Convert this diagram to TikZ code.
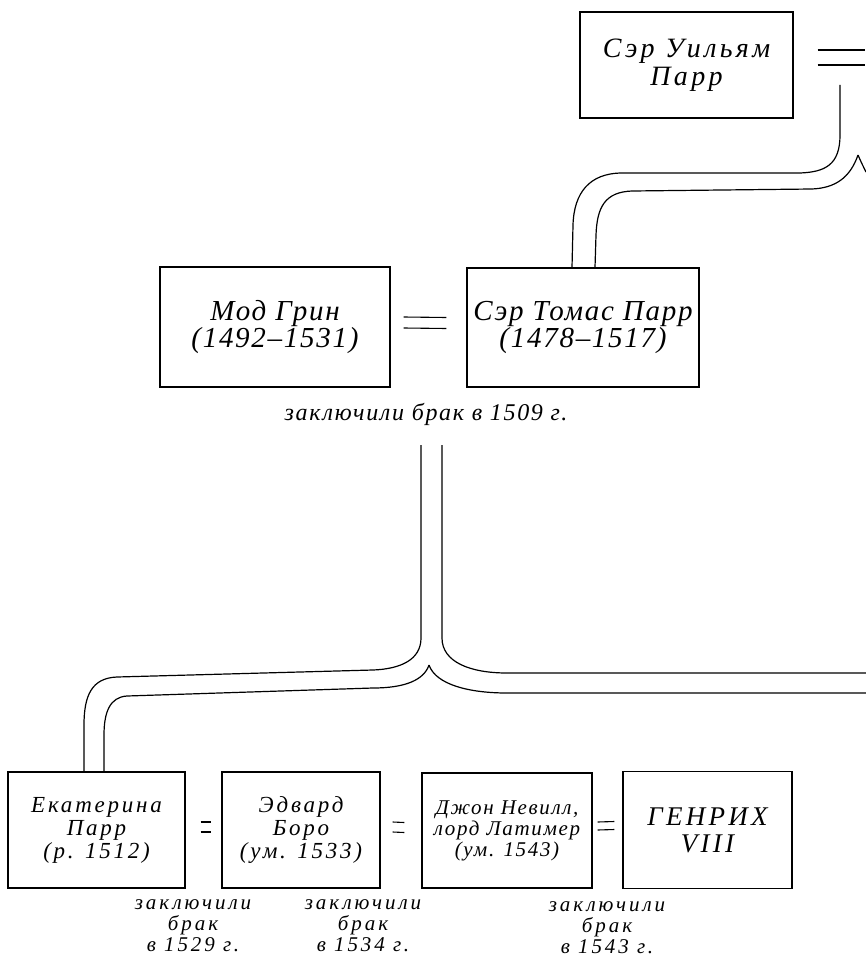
\documentclass[tikz,border=0pt]{standalone}
\usepackage{fontspec}
\setmainfont{Liberation Serif}[LetterSpace=6]

\begin{document}
\begin{tikzpicture}
	[x=1pt, y=-1pt,
	 person/.style={rectangle, draw, line width=1.2pt, align=center, inner sep=0pt, font=\itshape\fontsize{29}{27}\selectfont},
	 heir/.style={person, font=\itshape\fontsize{23}{23}\selectfont\addfontfeature{LetterSpace=12}},
	 wedlabel/.style={align=center, inner sep=0pt, font=\itshape\fontsize{21}{21}\selectfont\addfontfeature{LetterSpace=14}},
	 wed/.style={line width=1.1pt},
	 tube/.style={line width=1.2pt, line join=round}]
	\useasboundingbox (0,0) rectangle (865,960);
	\node[person, minimum width=213pt, minimum height=106pt, font=\itshape\fontsize{28}{28}\selectfont\addfontfeature{LetterSpace=12}] (wparr) at (686.5,65) {Сэр Уильям\\Парр};
	\node[person, minimum width=230pt, minimum height=120pt] (mgrin) at (275,327) {Мод Грин\\(1492–1531)};
	\node[person, minimum width=232pt, minimum height=119pt] (tparr) at (583,327.5) {Сэр Томас Парр\\(1478–1517)};
	\node[wedlabel, font=\itshape\fontsize{24}{22}\selectfont\addfontfeature{LetterSpace=7}] (wed1509) at (426,414) {заключили брак в 1509 г.};
	\node[heir, minimum width=177pt, minimum height=116pt] (kparr) at (96.5,830) {Екатерина\\Парр\\(р. 1512)};
	\node[heir, minimum width=158pt, minimum height=116pt] (eboro) at (301,830) {Эдвард\\Боро\\(ум. 1533)};
	\node[heir, minimum width=170pt, minimum height=115pt, font=\itshape\fontsize{21}{21}\selectfont\addfontfeature{LetterSpace=8}] (jnevill) at (507,830.5) {Джон Невилл,\\лорд Латимер\\(ум. 1543)};
	\node[heir, minimum width=169pt, minimum height=117pt, font=\itshape\fontsize{27}{27}\selectfont\addfontfeature{LetterSpace=12}] (henry) at (707.5,830) {ГЕНРИХ\\VIII};
	\node[wedlabel] (wed1529) at (193,926) {заключили\\брак\\в 1529 г.};
	\node[wedlabel] (wed1534) at (363,926) {заключили\\брак\\в 1534 г.};
	\node[wedlabel] (wed1543) at (607,928) {заключили\\брак\\в 1543 г.};

	\coordinate (spouseA) at (865,50);
	\coordinate (spouseB) at (865,65);
	\coordinate (wedW) at (840,85);
	\coordinate (forkW) at (858,155);
	\coordinate (wedM) at (431.5,445);
	\coordinate (forkM) at (429,665);
	\coordinate (sibA) at (866,673);
	\coordinate (sibB) at (866,693);

	% marriages
	\draw[wed] ([xshift=24pt,yshift=15pt]wparr.east) -- (spouseA);
	\draw[wed] ([xshift=24pt]wparr.east) -- (spouseB);
	\draw[wed] ([xshift=13pt,yshift=10pt]mgrin.east) -- ([xshift=-20pt,yshift=10pt]tparr.west);
	\draw[wed] ([xshift=13pt,yshift=-1pt]mgrin.east) -- ([xshift=-20pt,yshift=-1pt]tparr.west);
	\draw[wed] ([xshift=15pt,yshift=8pt]kparr.east) -- ([xshift=-10pt,yshift=8pt]eboro.west);
	\draw[wed] ([xshift=15pt,yshift=-2pt]kparr.east) -- ([xshift=-10pt,yshift=-2pt]eboro.west);
	\draw[wed] ([xshift=12pt,yshift=8pt]eboro.east) -- ([xshift=-17pt,yshift=8pt]jnevill.west);
	\draw[wed] ([xshift=12pt,yshift=-2pt]eboro.east) -- ([xshift=-17pt,yshift=-2pt]jnevill.west);
	\draw[wed] ([xshift=5pt,yshift=8.5pt]jnevill.east) -- ([xshift=-8pt,yshift=8.5pt]henry.west);
	\draw[wed] ([xshift=5pt,yshift=0.5pt]jnevill.east) -- ([xshift=-8pt,yshift=0.5pt]henry.west);

	% descent
	\draw[tube] (wedW) -- (840,135) .. controls (840,165) and (825,172) .. (800,173) -- (620,173) .. controls (590,174) and (574,192) .. (573,225) -- ([xshift=-11pt]tparr.north);
	\draw[tube] (forkW) .. controls (850,178) and (835,188) .. (812,189) -- (632,191) .. controls (605,192) and (597,207) .. (596,235) -- ([xshift=12pt]tparr.north);
	\draw[tube] (forkW) .. controls (861,162) and (864,168) .. (866,172);
	\draw[tube] ([xshift=-10.5pt]wedM) -- (421,638) .. controls (421,660) and (400,669) .. (373,670) -- (117,677) .. controls (92,678) and (84,695) .. (84,725) -- ([xshift=-12.5pt]kparr.north);
	\draw[tube] ([xshift=10.5pt]wedM) -- (442,638) .. controls (442,662) and (470,673) .. (507,673) -- (sibA);
	\draw[tube] (forkM) .. controls (424,680) and (405,688) .. (373,688) -- (127,696) .. controls (110,697) and (104,712) .. (104,735) -- ([xshift=7.5pt]kparr.north);
	\draw[tube] (forkM) .. controls (436,685) and (470,693) .. (507,693) -- (sibB);
\end{tikzpicture}
\end{document}
